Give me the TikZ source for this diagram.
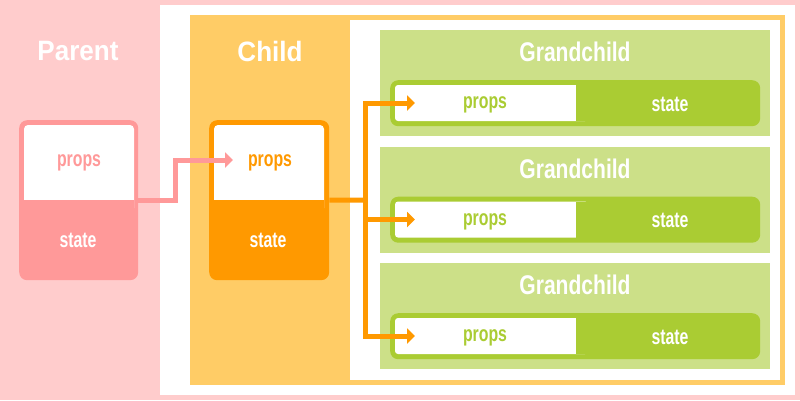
\documentclass[tikz,border=0pt]{standalone}
\usepackage{fontspec}
\newfontfamily\titlef{Liberation Sans}[FakeStretch=0.93]
\newfontfamily\gcf{Liberation Sans}[FakeStretch=0.78]
\newfontfamily\smallf{Liberation Sans}[FakeStretch=0.72]
\usetikzlibrary{arrows.meta}
\definecolor{pinkbg}{HTML}{FFCCCC}
\definecolor{pinkdk}{HTML}{FF9999}
\definecolor{orangelt}{HTML}{FFCC66}
\definecolor{orangedk}{HTML}{FF9900}
\definecolor{greenlt}{HTML}{CCE088}
\definecolor{greendk}{HTML}{AACC33}
\tikzset{
  titletext/.style={text=white, inner sep=0pt, font=\titlef\bfseries\fontsize{28}{30}\selectfont},
  gctext/.style={text=white, inner sep=0pt, font=\gcf\bfseries\fontsize{27}{30}\selectfont},
  smalltext/.style={inner sep=0pt, font=\smallf\bfseries\fontsize{22}{24}\selectfont},
  compbox/.style={inner sep=0pt, rounded corners=8pt, anchor=north west},
  conn/.style={line width=5pt, -{Triangle[length=8pt,width=15pt]}},
  connplain/.style={line width=5pt},
}
\begin{document}
\begin{tikzpicture}[x=1pt,y=-1pt]
\useasboundingbox (0,0) rectangle (800,400);
% backgrounds
\fill[pinkbg] (0,0) rectangle (800,400);
\fill[white] (160,5) rectangle (795,395);
\fill[orangelt] (190,15) rectangle (785,385);
\fill[white] (350,20) rectangle (780,380);
% titles
\node[titletext] (ptitle) at (78,51) {Parent};
\node[titletext] (ctitle) at (270,51) {Child};
% parent component
\node[compbox, fill=pinkdk, minimum width=119pt, minimum height=160pt] (pbox) at (19,120) {};
\fill[white, rounded corners=4pt] (24,125) rectangle (134,212);
\fill[pinkdk] (24,200) rectangle (134,214);
\node[smalltext, text=pinkdk] (pprops) at (79,163) {props};
\node[smalltext, text=white] (pstate) at (78,240) {state};
% child component
\node[compbox, fill=orangedk, minimum width=120pt, minimum height=160pt] (cbox) at (209,120) {};
\fill[white, rounded corners=4pt] (214,125) rectangle (324,212);
\fill[orangedk] (214,200) rectangle (324,214);
\node[smalltext, text=orangedk] (cprops) at (270,163) {props};
\node[smalltext, text=white] (cstate) at (268,240) {state};
% grandchildren
\foreach \t/\n in {30/1,146.5/2,263/3}{
  \fill[greenlt] (380,\t) rectangle (770,\t+106);
  \node[gctext] (gtitle\n) at (575,\t+22) {Grandchild};
  \node[compbox, fill=greendk, minimum width=370pt, minimum height=46pt] (grow\n) at (390,\t+50) {};
  \fill[white, rounded corners=3pt] (395,\t+55) rectangle (588,\t+91);
  \fill[greendk] (576,\t+55) rectangle (590,\t+91);
  \node[smalltext, text=greendk] (gprops\n) at (485,\t+75) {props};
  \node[smalltext, text=white] (gstate\n) at (670,\t+74) {state};
  \coordinate (gin\n) at (415,\t+73);
}
% connectors
\coordinate (cin) at (233,160);
\draw[conn, pinkdk] (pbox.east) -- ([xshift=37pt]pbox.east) |- (cin);
\coordinate (bus) at (365,200);
\draw[connplain, orangedk] (cbox.east) -- (bus);
\draw[conn, orangedk] (bus) |- (gin1);
\draw[conn, orangedk] (bus) |- (gin2);
\draw[conn, orangedk] (bus) |- (gin3);
\end{tikzpicture}
\end{document}
